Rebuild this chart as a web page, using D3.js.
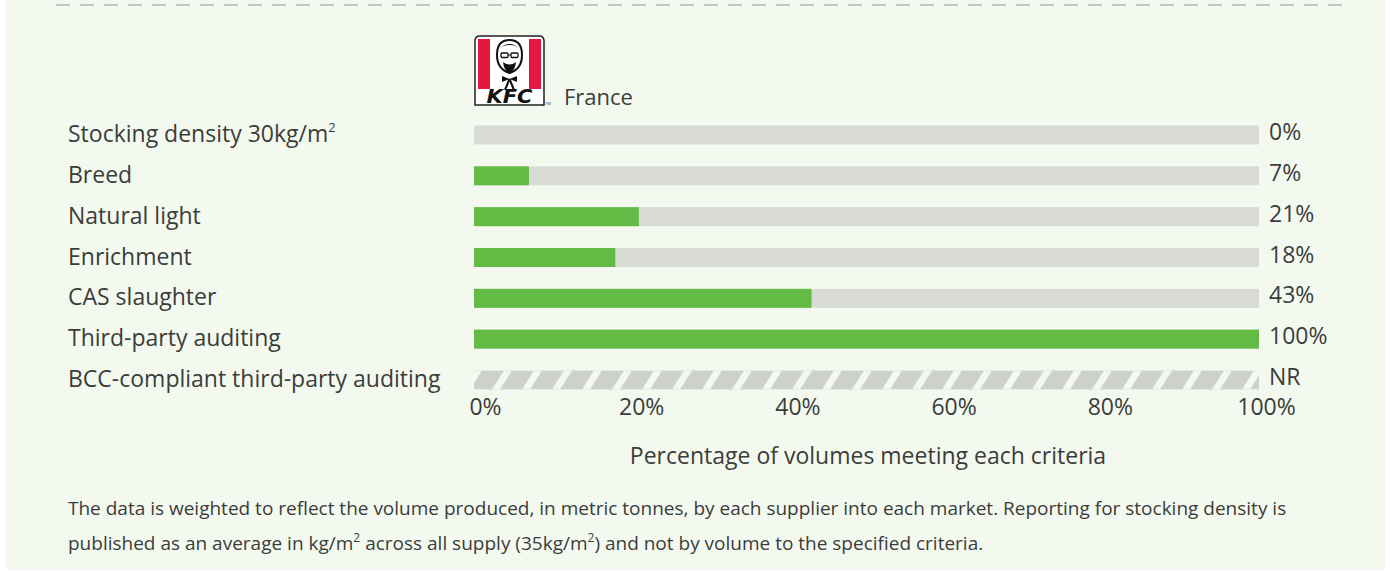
<!DOCTYPE html>
<html>
<head>
<meta charset="utf-8">
<script src="https://cdn.jsdelivr.net/npm/d3@7"></script>
<style>
  body { margin: 0; background: #ffffff; }
  svg text { font-family: "Open Sans", "Noto Sans", sans-serif; fill: #3b3d3a; }
</style>
</head>
<body>
<div class="chart"></div>
<script>
var categories = [
  "Stocking density 30kg/m",
  "Breed",
  "Natural light",
  "Enrichment",
  "CAS slaughter",
  "Third-party auditing",
  "BCC-compliant third-party auditing"
];
var values = [0, 7, 21, 18, 43, 100, null];
var valueLabels = ["0%", "7%", "21%", "18%", "43%", "100%", "NR"];
var tickValues = [0, 20, 40, 60, 80, 100];
var market = "France";
var axisTitle = "Percentage of volumes meeting each criteria";

var W = 1390, H = 576;

var svg = d3.select(".chart")
            .append("svg")
            .attr("width", W)
            .attr("height", H);

// panel background
svg.append("rect")
   .attr("x", 6).attr("y", 0)
   .attr("width", 1379).attr("height", 570)
   .attr("fill", "#f4f9f0");

// dashed separator on top
svg.append("line")
   .attr("x1", 56).attr("x2", 1350)
   .attr("y1", 5).attr("y2", 5)
   .attr("stroke", "#c4c8c1")
   .attr("stroke-width", 2)
   .attr("stroke-dasharray", "14 10");

/**
 * Scales
 */
var xScale = d3.scaleLinear()
               .domain([0, 100])
               .range([474, 1259]);

var yScale = d3.scalePoint()
               .domain(categories)
               .range([135, 380]);

var barH = 19;

/**
 * Hatch pattern for not reported
 */
var lastCat = categories[categories.length - 1];
var defs = svg.append("defs");
var pat = defs.append("pattern")
              .attr("id", "hatch")
              .attr("patternUnits", "userSpaceOnUse")
              .attr("width", 30)
              .attr("height", barH)
              .attr("x", xScale(0) - 4)
              .attr("y", yScale(lastCat) - barH / 2);
[-30, 0, 30].forEach(function(o) {
  pat.append("polygon")
     .attr("points", [[o + 12, 0], [o + 34, 0], [o + 22, barH], [o, barH]].join(" "))
     .attr("fill", "#cdd1ca");
});

/**
 * Rows
 */
var rows = svg.selectAll("g.row")
              .data(categories)
              .enter()
              .append("g")
              .attr("class", "row");

// category labels
rows.append("text")
    .attr("x", 68)
    .attr("y", function(d) { return yScale(d) - 1; })
    .attr("dy", "0.35em")
    .attr("font-size", 23)
    .text(function(d) { return d; })
    .filter(function(d, i) { return i === 0; })
    .append("tspan")
    .attr("font-size", 13)
    .attr("dy", "-0.75em")
    .text("2");

// background track
rows.append("rect")
    .attr("x", xScale(0))
    .attr("y", function(d) { return yScale(d) - barH / 2; })
    .attr("width", xScale(100) - xScale(0))
    .attr("height", barH)
    .attr("fill", function(d, i) {
      return values[i] === null ? "url(#hatch)" : "#d8dbd3";
    });

// value bars
rows.append("rect")
    .attr("x", xScale(0))
    .attr("y", function(d) { return yScale(d) - barH / 2; })
    .attr("width", function(d, i) {
      return values[i] === null ? 0 : xScale(values[i]) - xScale(0);
    })
    .attr("height", barH)
    .attr("fill", "#63bb46");

// value labels
rows.append("text")
    .attr("x", xScale(100) + 10)
    .attr("y", function(d) { return yScale(d) - 3; })
    .attr("dy", "0.35em")
    .attr("font-size", 23)
    .text(function(d, i) { return valueLabels[i]; });

/**
 * Axis (labels only)
 */
var tickScale = d3.scaleLinear()
                  .domain([0, 100])
                  .range([485, 1266]);

var xAxis = d3.axisBottom()
              .scale(tickScale)
              .tickValues(tickValues)
              .tickSize(0)
              .tickPadding(0)
              .tickFormat(function(d) { return d + "%"; });

var axisG = svg.append("g")
               .attr("transform", "translate(0,399)")
               .call(xAxis);
axisG.select(".domain").remove();
axisG.selectAll("text")
     .attr("font-size", 23)
     .attr("font-family", "'Open Sans', 'Noto Sans', sans-serif")
     .attr("fill", "#3b3d3a");

svg.append("text")
   .attr("x", 868)
   .attr("y", 456)
   .attr("dy", "0.35em")
   .attr("text-anchor", "middle")
   .attr("font-size", 23)
   .text(axisTitle);

/**
 * Logo + market name
 */
var logo = svg.append("g").attr("transform", "translate(474,35)");
logo.append("path")
    .attr("d", "M1,6 Q1,1 6,1 L65,1 Q70,1 70,6 L70,70 L1,70 Z")
    .attr("fill", "#ffffff")
    .attr("stroke", "#222")
    .attr("stroke-width", 1.5);
logo.append("rect").attr("x", 4).attr("y", 4).attr("width", 12).attr("height", 50).attr("fill", "#e4173e");
logo.append("rect").attr("x", 55).attr("y", 4).attr("width", 12).attr("height", 50).attr("fill", "#e4173e");
// colonel face, rough
logo.append("path")
    .attr("d", "M23,20 Q23,5 35.5,5 Q48,5 48,20 Q48,34 35.5,38 Q23,34 23,20 Z")
    .attr("fill", "#fff").attr("stroke", "#111").attr("stroke-width", 2);
logo.append("path").attr("d", "M25,14 Q35.5,4 46,14 Q42,10 35.5,10 Q29,10 25,14 Z").attr("fill", "#111");
logo.append("rect").attr("x", 27).attr("y", 18).attr("width", 7).attr("height", 4.5).attr("rx", 1).attr("fill", "none")
    .attr("stroke", "#111").attr("stroke-width", 1.3);
logo.append("rect").attr("x", 37).attr("y", 18).attr("width", 7).attr("height", 4.5).attr("rx", 1).attr("fill", "none")
    .attr("stroke", "#111").attr("stroke-width", 1.3);
logo.append("path").attr("d", "M34,20 L37,20").attr("stroke", "#111").attr("stroke-width", 1);
logo.append("path").attr("d", "M29,27 Q35.5,32 42,27 Q41,36 35.5,38 Q30,36 29,27 Z").attr("fill", "#111");
logo.append("path").attr("d", "M28,41 L35.5,44 L43,41 L43,47 L35.5,44 L28,47 Z").attr("fill", "#111");
logo.append("path").attr("d", "M35.5,44 L31,55 M35.5,44 L40,55")
    .attr("stroke", "#111").attr("stroke-width", 2).attr("fill", "none");
logo.append("text")
    .attr("x", 35.5).attr("y", 68)
    .attr("text-anchor", "middle")
    .attr("font-size", 19)
    .attr("font-weight", "900")
    .attr("font-style", "italic")
    .attr("textLength", 46)
    .attr("lengthAdjust", "spacingAndGlyphs")
    .style("font-family", "'DejaVu Sans', sans-serif")
    .style("fill", "#111")
    .text("KFC");
logo.append("text")
    .attr("x", 71).attr("y", 70)
    .attr("font-size", 4)
    .text("TM");

svg.append("text")
   .attr("x", 564)
   .attr("y", 97)
   .attr("dy", "0.35em")
   .attr("font-size", 22)
   .text(market);

/**
 * Footnote
 */
var note = svg.append("text")
              .attr("font-size", 19);
note.append("tspan")
    .attr("x", 68).attr("y", 515)
    .text("The data is weighted to reflect the volume produced, in metric tonnes, by each supplier into each market. Reporting for stocking density is");
var l2 = note.append("tspan")
    .attr("x", 68).attr("y", 550)
    .text("published as an average in kg/m");
l2.append("tspan").attr("font-size", 12).attr("dy", -8).text("2");
l2.append("tspan").attr("dy", 8).text(" across all supply (35kg/m");
l2.append("tspan").attr("font-size", 12).attr("dy", -8).text("2");
l2.append("tspan").attr("dy", 8).text(") and not by volume to the specified criteria.");
</script>
</body>
</html>
